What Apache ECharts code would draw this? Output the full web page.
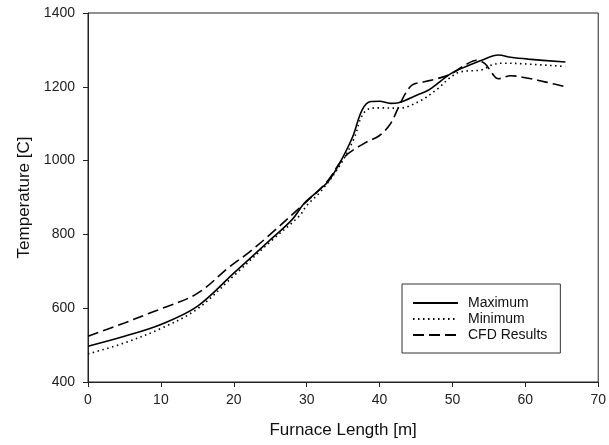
<!DOCTYPE html>
<html>
<head>
<meta charset="utf-8">
<script src="https://cdn.jsdelivr.net/npm/echarts@6/dist/echarts.min.js"></script>
<style>
html,body{margin:0;padding:0;background:#fff;}
#c{width:609px;height:445px;}
</style>
</head>
<body>
<div id="c"></div>
<script>
const xTicks = [0, 10, 20, 30, 40, 50, 60, 70];
const yTicks = [400, 600, 800, 1000, 1200, 1400];

const maxX = [0, 5, 10, 15, 20, 25, 28, 29.7, 31.7, 33, 34.5, 36.3, 37.6, 38.8, 40, 41.5, 42.6, 45.4, 46.8, 49.9, 52.7, 54, 56.3, 58, 60.4, 65.5];
const maxT = [497, 524, 556, 605, 695, 785, 840, 885, 920, 945, 992, 1064, 1137, 1160, 1161, 1155, 1157, 1180, 1192, 1237, 1262, 1272, 1286, 1280, 1275, 1267];

const minX = [0, 5, 10, 15, 20, 25, 29, 30, 32, 34.5, 36.5, 37.5, 38.5, 40, 42.6, 45.4, 48, 49.5, 51, 54, 55.5, 57, 60, 65.5];
const minT = [476, 506, 545, 598, 688, 780, 850, 878, 918, 985, 1060, 1118, 1140, 1143, 1142, 1160, 1195, 1222, 1240, 1246, 1260, 1264, 1262, 1255];

const cfdX = [0, 5, 8.5, 10, 15, 19.4, 22, 25, 29.2, 31.7, 33, 35.2, 38, 40, 41.5, 42.5, 43.5, 44.5, 46, 47.5, 49.5, 52, 53.3, 54.5, 55.5, 56.3, 58, 60.4, 63, 65.5];
const cfdT = [524, 560, 587, 598, 640, 712, 750, 800, 875, 920, 948, 1010, 1048, 1068, 1100, 1140, 1180, 1205, 1213, 1220, 1232, 1262, 1272, 1262, 1235, 1222, 1230, 1223, 1212, 1200];

const seriesNames = ['Maximum', 'Minimum', 'CFD Results'];

function pairs(xs, ys) { return xs.map((x, i) => [x, ys[i]]); }

const chart = echarts.init(document.getElementById('c'), null, {renderer: 'canvas'});
const font = 'Liberation Sans, Arial, sans-serif';
const lineBase = {type: 'line', symbol: 'none', showSymbol: false, smooth: 0.35, animation: false};

chart.setOption({
  animation: false,
  backgroundColor: '#fff',
  grid: {left: 88, right: 9, top: 13, bottom: 63, show: true, borderColor: '#222', borderWidth: 1, backgroundColor: 'transparent'},
  xAxis: {
    type: 'value', min: 0, max: 70, interval: 10,
    name: 'Furnace Length [m]', nameLocation: 'middle', nameGap: 40,
    nameTextStyle: {fontFamily: font, fontSize: 17, color: '#111'},
    axisLine: {show: true, lineStyle: {color: '#222', width: 1}},
    axisTick: {show: true, inside: false, length: 5, lineStyle: {color: '#222'}},
    axisLabel: {fontFamily: font, fontSize: 14, color: '#222', margin: 11,
      formatter: v => xTicks.includes(v) ? String(v) : ''},
    splitLine: {show: false}
  },
  yAxis: {
    type: 'value', min: 400, max: 1400, interval: 200,
    name: 'Temperature [C]', nameLocation: 'middle', nameGap: 55,
    nameTextStyle: {fontFamily: font, fontSize: 17, color: '#111'},
    axisLine: {show: true, lineStyle: {color: '#222', width: 1}},
    axisTick: {show: true, inside: false, length: 5, lineStyle: {color: '#222'}},
    axisLabel: {fontFamily: font, fontSize: 14, color: '#222', margin: 13,
      formatter: v => yTicks.includes(v) ? String(v) : ''},
    splitLine: {show: false}
  },
  legend: {
    show: true, orient: 'vertical', left: 402, top: 284,
    data: seriesNames,
    borderColor: '#333', borderWidth: 1,
    padding: [12, 13, 11, 10],
    itemGap: 2, itemWidth: 45, itemHeight: 14,
    itemStyle: {opacity: 0},
    textStyle: {fontFamily: font, fontSize: 14, color: '#111', padding: [0, 0, 0, 5]}
  },
  series: [
    Object.assign({}, lineBase, {name: seriesNames[0], data: pairs(maxX, maxT),
      lineStyle: {color: '#000', width: 1.6, type: 'solid'}, itemStyle: {color: '#000'}}),
    Object.assign({}, lineBase, {name: seriesNames[1], data: pairs(minX, minT),
      lineStyle: {color: '#000', width: 1.6, type: [1.5, 3.5]}, itemStyle: {color: '#000'}}),
    Object.assign({}, lineBase, {name: seriesNames[2], data: pairs(cfdX, cfdT),
      lineStyle: {color: '#000', width: 1.6, type: [11, 5]}, itemStyle: {color: '#000'}})
  ]
});
</script>
</body>
</html>
